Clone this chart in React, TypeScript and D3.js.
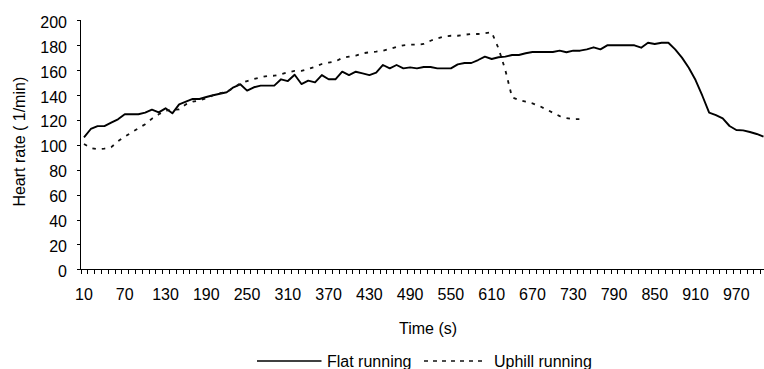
import React from "react";
import * as d3 from "d3";

const times: number[] = [
  10, 20, 30, 40, 50, 60, 70, 80, 90, 100, 110, 120, 130, 140, 150, 160, 170, 180, 190, 200,
  210, 220, 230, 240, 250, 260, 270, 280, 290, 300, 310, 320, 330, 340, 350, 360, 370, 380, 390, 400,
  410, 420, 430, 440, 450, 460, 470, 480, 490, 500, 510, 520, 530, 540, 550, 560, 570, 580, 590, 600,
  610, 620, 630, 640, 650, 660, 670, 680, 690, 700, 710, 720, 730, 740, 750, 760, 770, 780, 790, 800,
  810, 820, 830, 840, 850, 860, 870, 880, 890, 900, 910, 920, 930, 940, 950, 960, 970, 980, 990, 1000,
  1010,
];

const flatRunning: number[] = [
  106, 112.7, 115, 115, 117.8, 120.5, 124.5, 124.5, 124.5, 125.8,
  128.2, 126, 129.3, 125.3, 132.5, 134.6, 136.8, 136.8, 138.4, 139.8,
  141, 142.2, 146.2, 148.6, 143.5, 146.2, 147.5, 147.5, 147.5, 152.6,
  151.2, 156.3, 148.8, 151.5, 150.2, 156, 152.6, 152.6, 158.7, 156,
  158.7, 157.4, 156, 157.9, 164.1, 161.4, 164.1, 161.4, 162.2, 161.4,
  162.5, 162.5, 161.4, 161.4, 161.4, 164.6, 165.7, 165.7, 168.1, 170.8,
  168.9, 170.3, 170.8, 172.1, 172.1, 173.5, 174.5, 174.5, 174.5, 174.5,
  175.6, 174.3, 175.6, 175.6, 176.7, 178.3, 176.7, 179.9, 179.9, 179.9,
  179.9, 179.9, 178, 182, 181, 182, 182, 176.7, 170, 161.9,
  152, 139.4, 125.8, 123.9, 121.3, 115.1, 111.9, 111.6, 110.3, 108.7,
  106.5,
];

const uphillRunning: number[] = [
  100.6, 97.4, 96.4, 96.9, 98, 102.8, 106.5, 110, 113.3, 116.5,
  121, 124.5, 127.4, 128, 128.5, 132.5, 134.6, 135.7, 137.3, 139.8,
  141.6, 142.4, 145.6, 149.4, 151.2, 152.8, 154.2, 155.3, 155.5, 156.6,
  158.2, 159.3, 159.3, 160.9, 162.7, 164.9, 166, 167, 169.7, 170.8,
  171.6, 173.5, 174.3, 174.8, 175.6, 177, 178.6, 179.9, 180.4, 180.4,
  181, 183.6, 185.5, 187.1, 187.6, 187.6, 188.4, 189, 189, 189.6,
  190.4, 177.5, 160.1, 138.1, 136, 134.6, 133.3, 131.2, 128.5, 125.8,
  123.1, 121.5, 120.5, 120.7,
];

const xTickLabels: number[] = [10, 70, 130, 190, 250, 310, 370, 430, 490, 550, 610, 670, 730, 790, 850, 910, 970];
const yTicks: number[] = [0, 20, 40, 60, 80, 100, 120, 140, 160, 180, 200];

const seriesNames = ["Flat running", "Uphill running"];

const W = 764;
const H = 369;
const FONT = "'Liberation Sans', Arial, sans-serif";
const FS = 16;

export default function App() {
  const left = 80.6;
  const bw = 6.795;
  const x = d3
    .scaleBand<string>()
    .domain(times.map(String))
    .range([left, left + times.length * bw])
    .padding(0);
  const cx = (t: number) => (x(String(t)) as number) + x.bandwidth() / 2;
  const y = d3.scaleLinear().domain([0, 200]).range([269.3, 20.3]);

  const line = d3
    .line<number>()
    .x((_, i) => cx(times[i]))
    .y((d) => y(d));

  const axisY = 269.5;
  const axisX = 80.5;
  const boundaries = d3.range(times.length + 1).map((k) => left + k * bw);

  return (
    <svg
      width={W}
      height={H}
      style={{ position: "absolute", left: 0, top: 0, background: "#fff" }}
      fontFamily={FONT}
    >
      <rect x={0} y={0} width={W} height={H} fill="#fff" />
      {/* data lines */}
      <path d={line(flatRunning) || ""} fill="none" stroke="#000" strokeWidth={1.9} strokeLinejoin="round" />
      <path
        d={line(uphillRunning) || ""}
        fill="none"
        stroke="#111"
        strokeWidth={1.8}
        strokeDasharray="3.5,6"
      />
      {/* y axis */}
      <line x1={axisX} x2={axisX} y1={y(200)} y2={axisY} stroke="#000" strokeWidth={1} shapeRendering="crispEdges" />
      {yTicks.map((v) => (
        <g key={v}>
          <line x1={76.5} x2={axisX} y1={Math.round(y(v)) + 0.5} y2={Math.round(y(v)) + 0.5} stroke="#000" shapeRendering="crispEdges" />
          <text x={67} y={y(v) + 7.5} textAnchor="end" fontSize={FS} fill="#000">
            {v}
          </text>
        </g>
      ))}
      {/* x axis */}
      <line x1={axisX} x2={W + 5} y1={axisY} y2={axisY} stroke="#000" shapeRendering="crispEdges" />
      {boundaries.map((b, k) => (
        <line key={k} x1={Math.round(b) + 0.5} x2={Math.round(b) + 0.5} y1={axisY} y2={axisY + 4} stroke="#000" shapeRendering="crispEdges" />
      ))}
      {xTickLabels.map((t) => (
        <text key={t} x={cx(t)} y={299.5} textAnchor="middle" fontSize={FS} fill="#000">
          {t}
        </text>
      ))}
      {/* titles */}
      <text x={428} y={333.5} textAnchor="middle" fontSize={FS} fill="#000">
        Time (s)
      </text>
      <text
        transform={`translate(25,${141.7}) rotate(-90)`}
        textAnchor="middle"
        fontSize={FS}
        fill="#000"
      >
        Heart rate ( 1/min)
      </text>
      {/* legend */}
      <line x1={257} x2={321.5} y1={361} y2={361} stroke="#000" strokeWidth={1.5} />
      <text x={327} y={367} fontSize={FS} fill="#000">
        {seriesNames[0]}
      </text>
      <line x1={424} x2={487} y1={361} y2={361} stroke="#111" strokeWidth={1.5} strokeDasharray="4,5" />
      <text x={494} y={367} fontSize={FS} fill="#000">
        {seriesNames[1]}
      </text>
    </svg>
  );
}
